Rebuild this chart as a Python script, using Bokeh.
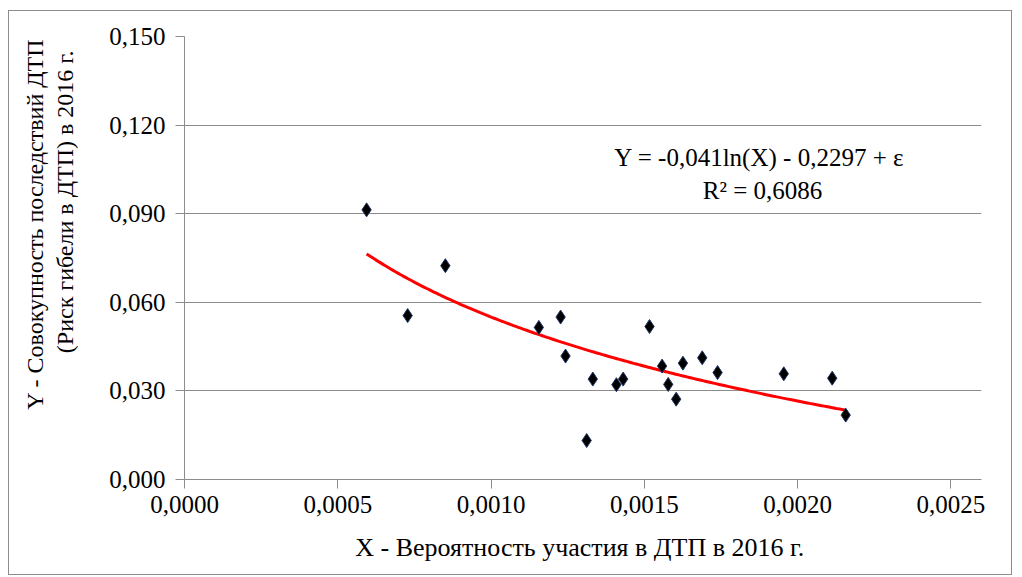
import numpy as np
from bokeh.plotting import figure
from bokeh.models import FixedTicker, Label, ColumnDataSource, Title
from bokeh.embed import file_html
from bokeh.resources import INLINE

# Data
x_vals = [0.000594, 0.000851, 0.000728, 0.001156, 0.001227, 0.001243, 0.001332,
          0.001312, 0.001409, 0.001431, 0.001517, 0.001558, 0.001578, 0.001604,
          0.001626, 0.001689, 0.001739, 0.001955, 0.002113, 0.002157]
y_vals = [0.0913, 0.0724, 0.0555, 0.0515, 0.0550, 0.0418, 0.0340,
          0.0132, 0.0321, 0.0340, 0.0518, 0.0384, 0.0322, 0.0272,
          0.0394, 0.0412, 0.0362, 0.0358, 0.0343, 0.0218]

x_ticks = [0.0, 0.0005, 0.0010, 0.0015, 0.0020, 0.0025]
x_tick_labels = ["0,0000", "0,0005", "0,0010", "0,0015", "0,0020", "0,0025"]
y_ticks = [0.0, 0.03, 0.06, 0.09, 0.12, 0.15]
y_tick_labels = ["0,000", "0,030", "0,060", "0,090", "0,120", "0,150"]

x_title = "X - Вероятность участия в ДТП в 2016  г."
y_title_1 = "Y - Совокупность последствий ДТП"
y_title_2 = "(Риск гибели в ДТП) в 2016 г."
eq_line_1 = "Y = -0,041ln(X)  - 0,2297 + ε"
eq_line_2 = "R² = 0,6086"

FONT = "Liberation Serif"
FS = "25px"

# logarithmic trendline fitted to the points
xa = np.array(x_vals)
ya = np.array(y_vals)
a, b = np.polyfit(np.log(xa), ya, 1)
xt = np.linspace(xa.min(), xa.max(), 200)
yt = a * np.log(xt) + b

p = figure(width=1004, height=565, x_range=(0, 0.0026), y_range=(0, 0.15),
           output_backend="svg", toolbar_location=None,
           min_border_left=175, min_border_right=32, min_border_top=25,
           min_border_bottom=97)
p.styles = {"border": "1px solid #8c8c8c", "margin-left": "8px", "margin-top": "10px"}
p.outline_line_color = None
p.background_fill_color = "white"
p.border_fill_color = "white"

p.xgrid.visible = False
p.ygrid.ticker = FixedTicker(ticks=y_ticks)
p.ygrid.grid_line_color = "#8c8c8c"
p.ygrid.grid_line_width = 1

for ax, ticks, labels in ((p.xaxis[0], x_ticks, x_tick_labels), (p.yaxis[0], y_ticks, y_tick_labels)):
    ax.ticker = FixedTicker(ticks=ticks)
    ax.major_label_overrides = {t: l for t, l in zip(ticks, labels)}
    ax.axis_line_color = "#8c8c8c"
    ax.major_tick_line_color = "#8c8c8c"
    ax.major_tick_in = 0
    ax.major_tick_out = 9
    ax.minor_tick_line_color = None
    ax.major_label_text_font = FONT
    ax.major_label_text_font_size = FS
    ax.major_label_text_color = "black"
    ax.axis_label_text_font = FONT
    ax.axis_label_text_font_size = FS
    ax.axis_label_text_font_style = "normal"
    ax.axis_label_text_color = "black"

p.yaxis[0].major_label_standoff = 10
p.xaxis[0].major_label_standoff = 7
p.xaxis[0].axis_label = x_title
p.xaxis[0].axis_label_text_font_size = "26px"
p.xaxis[0].axis_label_standoff = 17

spacer = Title(text=" ", standoff=24, text_font=FONT, text_font_size="1px")
t2 = Title(text=y_title_2, align="right", offset=14, standoff=4,
           text_font=FONT, text_font_size="24px", text_font_style="normal",
           text_color="black")
t1 = Title(text=y_title_1, align="right", offset=2, standoff=0,
           text_font=FONT, text_font_size="24px", text_font_style="normal",
           text_color="black")
p.add_layout(spacer, "left")
p.add_layout(t2, "left")
p.add_layout(t1, "left")

p.line(xt, yt, line_color="#ff0000", line_width=3)
src = ColumnDataSource(dict(x=x_vals, y=y_vals))
p.scatter("x", "y", source=src, marker="diamond", size=14, fill_color="black",
          line_color="#1f3864", line_width=1)

p.add_layout(Label(x=578, y=322, x_units="screen", y_units="screen", text=eq_line_1,
                   text_align="center", text_baseline="middle",
                   text_font=FONT, text_font_size="25px", text_color="black"))
p.add_layout(Label(x=578, y=289, x_units="screen", y_units="screen", text=eq_line_2,
                   text_align="center", text_baseline="middle",
                   text_font=FONT, text_font_size="25px", text_color="black"))

open("out.html", "w").write(file_html(p, INLINE))
